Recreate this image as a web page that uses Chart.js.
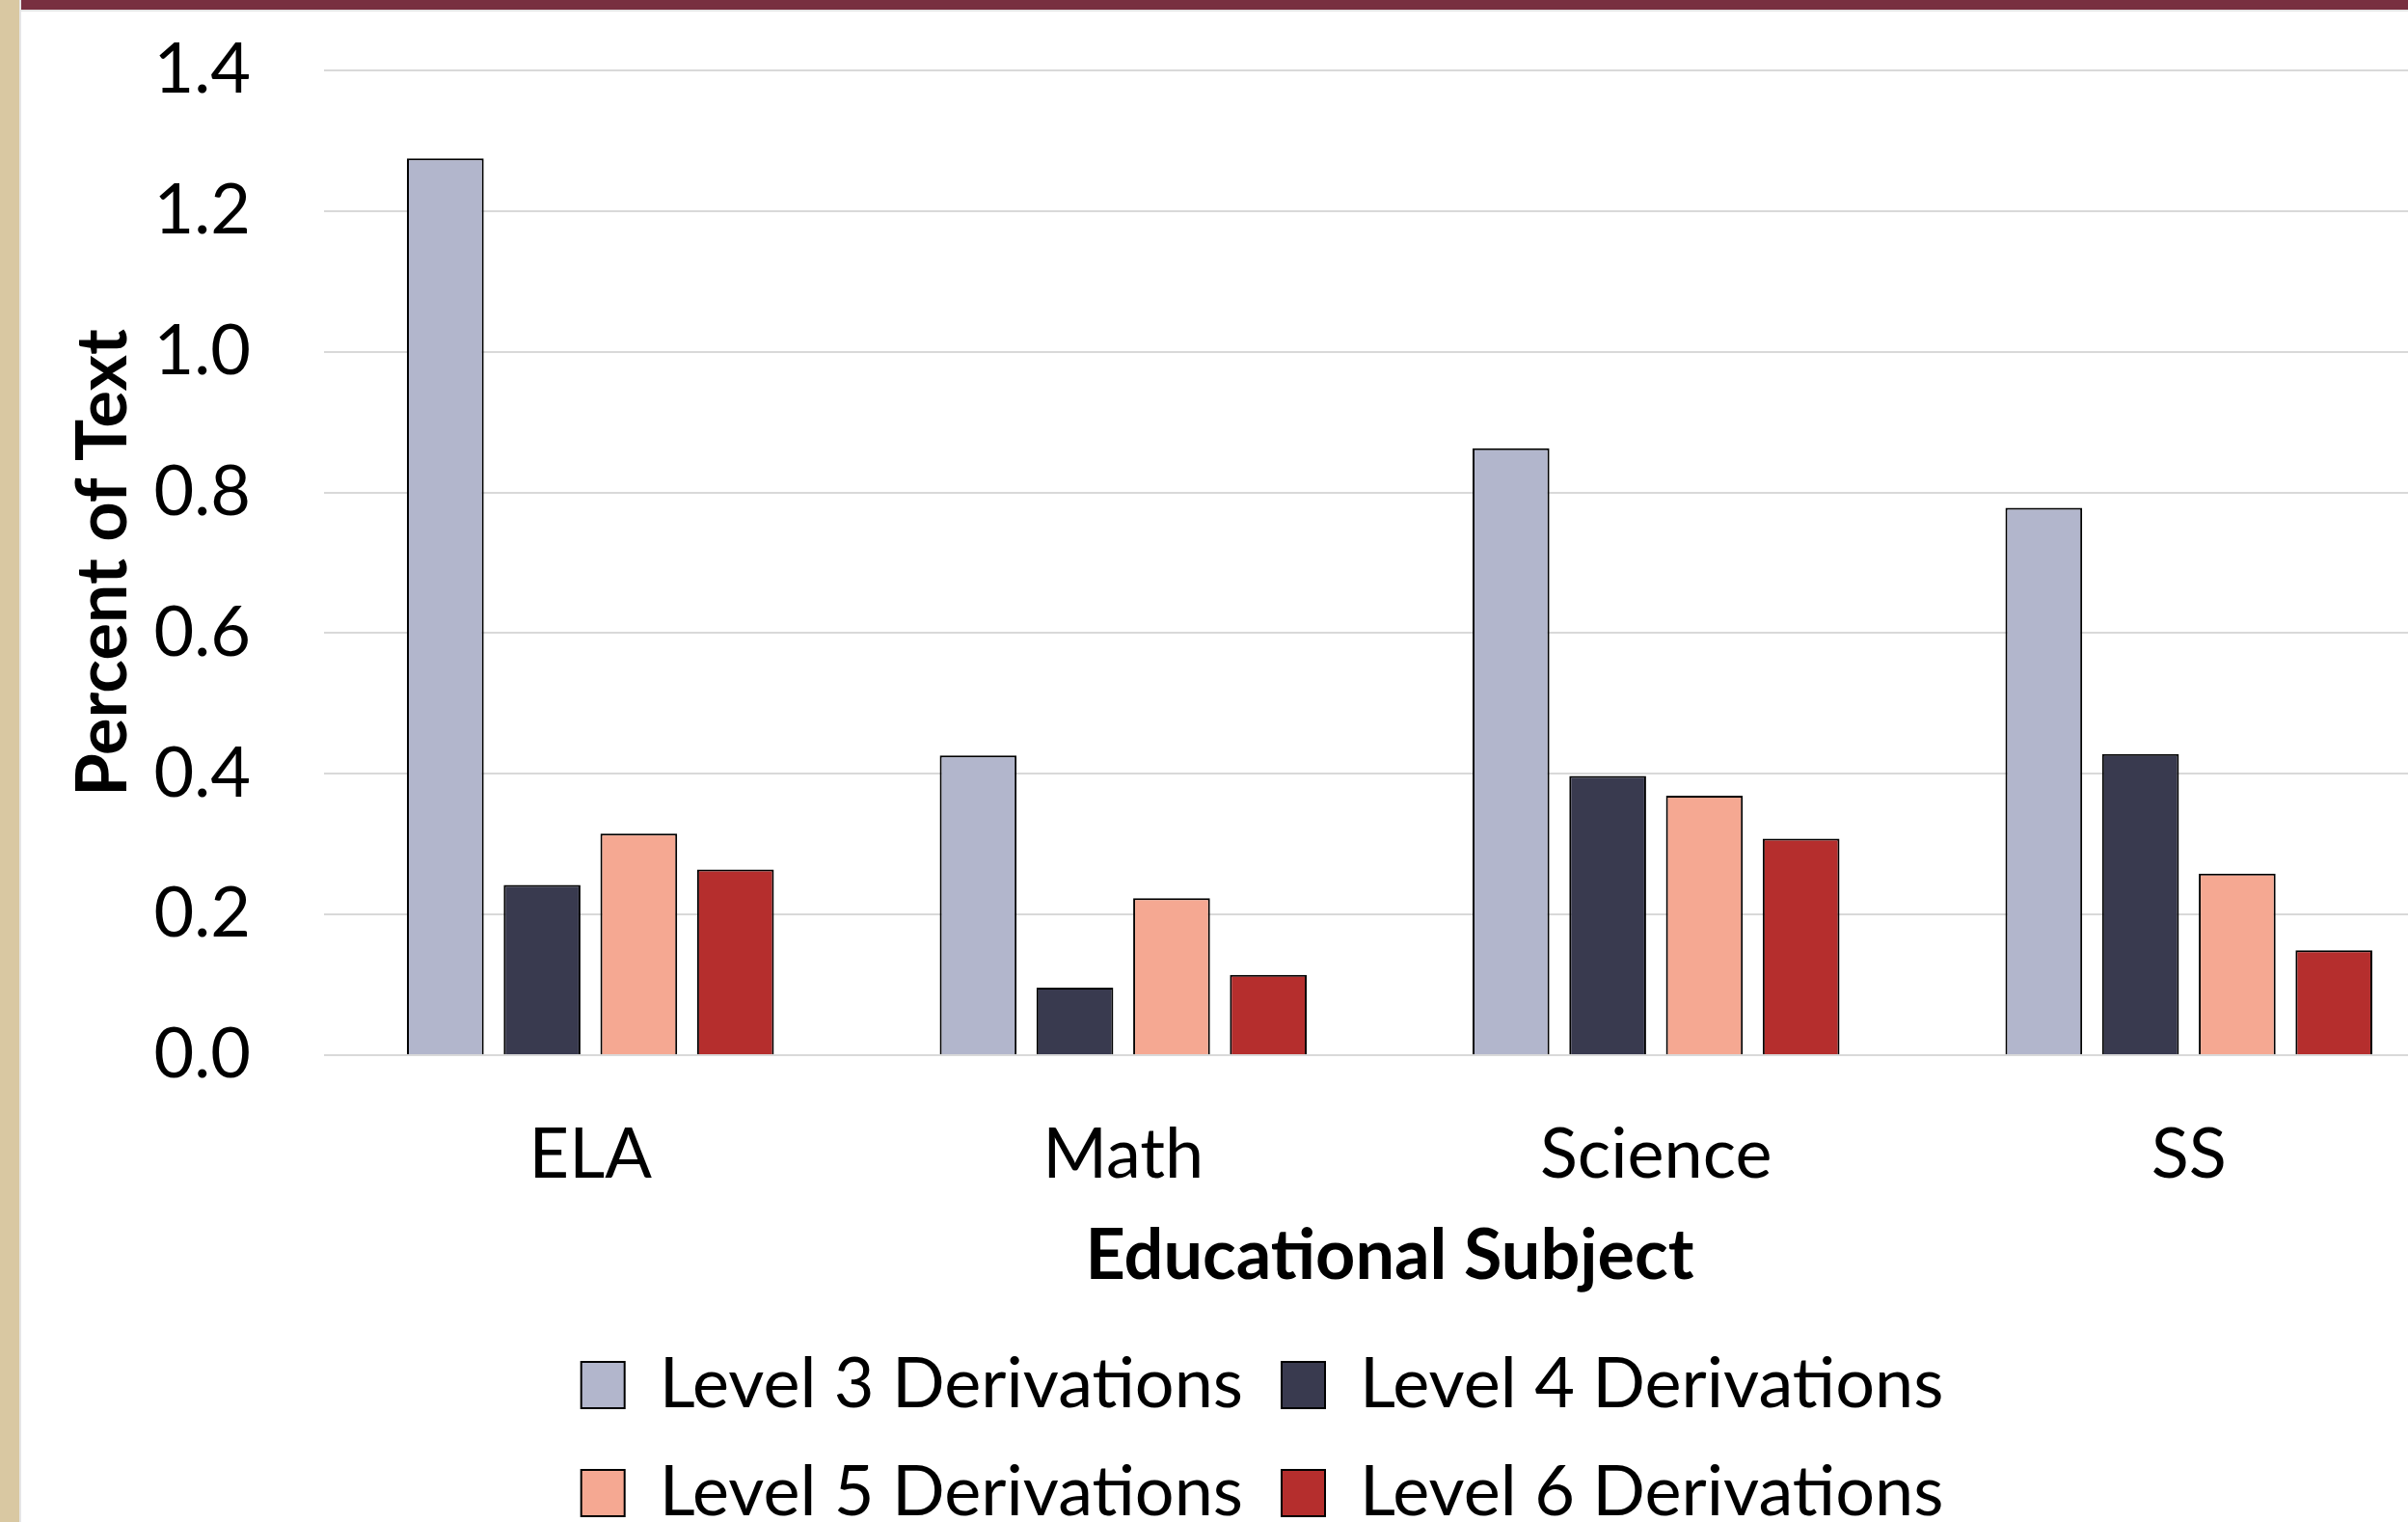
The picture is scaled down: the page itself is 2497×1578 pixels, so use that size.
<!DOCTYPE html>
<html>
<head>
<meta charset="utf-8">
<title>Derivations by Educational Subject</title>
<script src="https://cdn.jsdelivr.net/npm/chart.js@4.4.1/dist/chart.umd.min.js"></script>
<style>
  html, body { margin: 0; padding: 0; background: #fff; overflow: hidden; width: 2497px; height: 1578px; }
  #topbar { position: absolute; left: 0; top: 0; width: 2497px; height: 10px; background: #782f40; border-bottom: 2px solid #e6e6e6; z-index: 2; }
  #sidebar { position: absolute; left: 0; top: 0; width: 20px; height: 1578px; background: #d9c8a2; border-right: 2px solid #e6e6e6; z-index: 3; }
  #chart { position: absolute; left: 0; top: 0; }
</style>
</head>
<body>
<div id="topbar"></div>
<div id="sidebar"></div>
<canvas id="chart" width="2546" height="1594"></canvas>
<script>
// data
var subjects = ['ELA', 'Math', 'Science', 'SS'];
var level3 = [1.275, 0.426, 0.863, 0.778];
var level4 = [0.242, 0.096, 0.397, 0.428];
var level5 = [0.315, 0.223, 0.369, 0.258];
var level6 = [0.264, 0.114, 0.308, 0.149];
var seriesNames = ['Level 3 Derivations', 'Level 4 Derivations', 'Level 5 Derivations', 'Level 6 Derivations'];
var seriesColors = ['#b2b6cc', '#393a4f', '#f5a892', '#b52e2d'];
var yMin = 0, yMax = 1.4, yStep = 0.2;

var FONT = 'Lato';
var SIZE = 72;

// keep two legend entries per row, like the original
var legendRows = {
  id: 'legendRows',
  beforeLayout: function (chart) {
    var lg = chart.legend;
    if (lg && !lg._rowsPatched) {
      var update = lg.update;
      lg.update = function (maxWidth, maxHeight, margins) {
        update.call(this, Math.min(maxWidth, 1750), maxHeight, margins);
      };
      lg._rowsPatched = true;
    }
  }
};

var values = [level3, level4, level5, level6];
var datasets = values.map(function (v, i) {
  return {
    label: seriesNames[i],
    data: v,
    backgroundColor: seriesColors[i],
    borderColor: '#000',
    borderWidth: 2,
    categoryPercentage: 0.726,
    barPercentage: 0.794
  };
});

Chart.defaults.font.family = FONT;
Chart.defaults.color = '#000';

new Chart(document.getElementById('chart'), {
  type: 'bar',
  data: { labels: subjects, datasets: datasets },
  plugins: [legendRows],
  options: {
    responsive: false,
    animation: false,
    layout: { padding: { top: 73, left: 72, right: 0, bottom: 0 } },
    plugins: {
      tooltip: { enabled: false },
      legend: {
        position: 'bottom',
        labels: {
          boxWidth: 45,
          boxHeight: 48,
          padding: 40,
          color: '#000',
          font: { size: SIZE, lineHeight: 1 }
        }
      }
    },
    scales: {
      x: {
        grid: { display: false },
        border: { display: false },
        ticks: { padding: 60, maxRotation: 0, color: '#000', font: { size: SIZE, lineHeight: 1 } },
        title: {
          display: true,
          text: 'Educational Subject',
          color: '#000',
          padding: { top: 0, bottom: 21 },
          font: { size: SIZE, weight: 'bold', lineHeight: 1 }
        },
        afterFit: function (s) { s.height = 266; }
      },
      y: {
        min: yMin,
        max: yMax,
        // invisible tick marks give the label gap without padding the top
        grid: { color: '#d9d9d9', lineWidth: 2, drawTicks: true, tickLength: 76, tickColor: 'rgba(0,0,0,0)' },
        border: { display: false },
        ticks: {
          stepSize: yStep,
          padding: 0,
          color: '#000',
          font: { size: SIZE, lineHeight: 1 },
          callback: function (v) { return v.toFixed(1); }
        },
        title: {
          display: true,
          text: 'Percent of Text',
          color: '#000',
          padding: { top: 0, bottom: 0 },
          font: { size: SIZE, weight: 'bold', lineHeight: 1 }
        },
        afterFit: function (s) { s.width = 264; }
      }
    }
  }
});
</script>
</body>
</html>
